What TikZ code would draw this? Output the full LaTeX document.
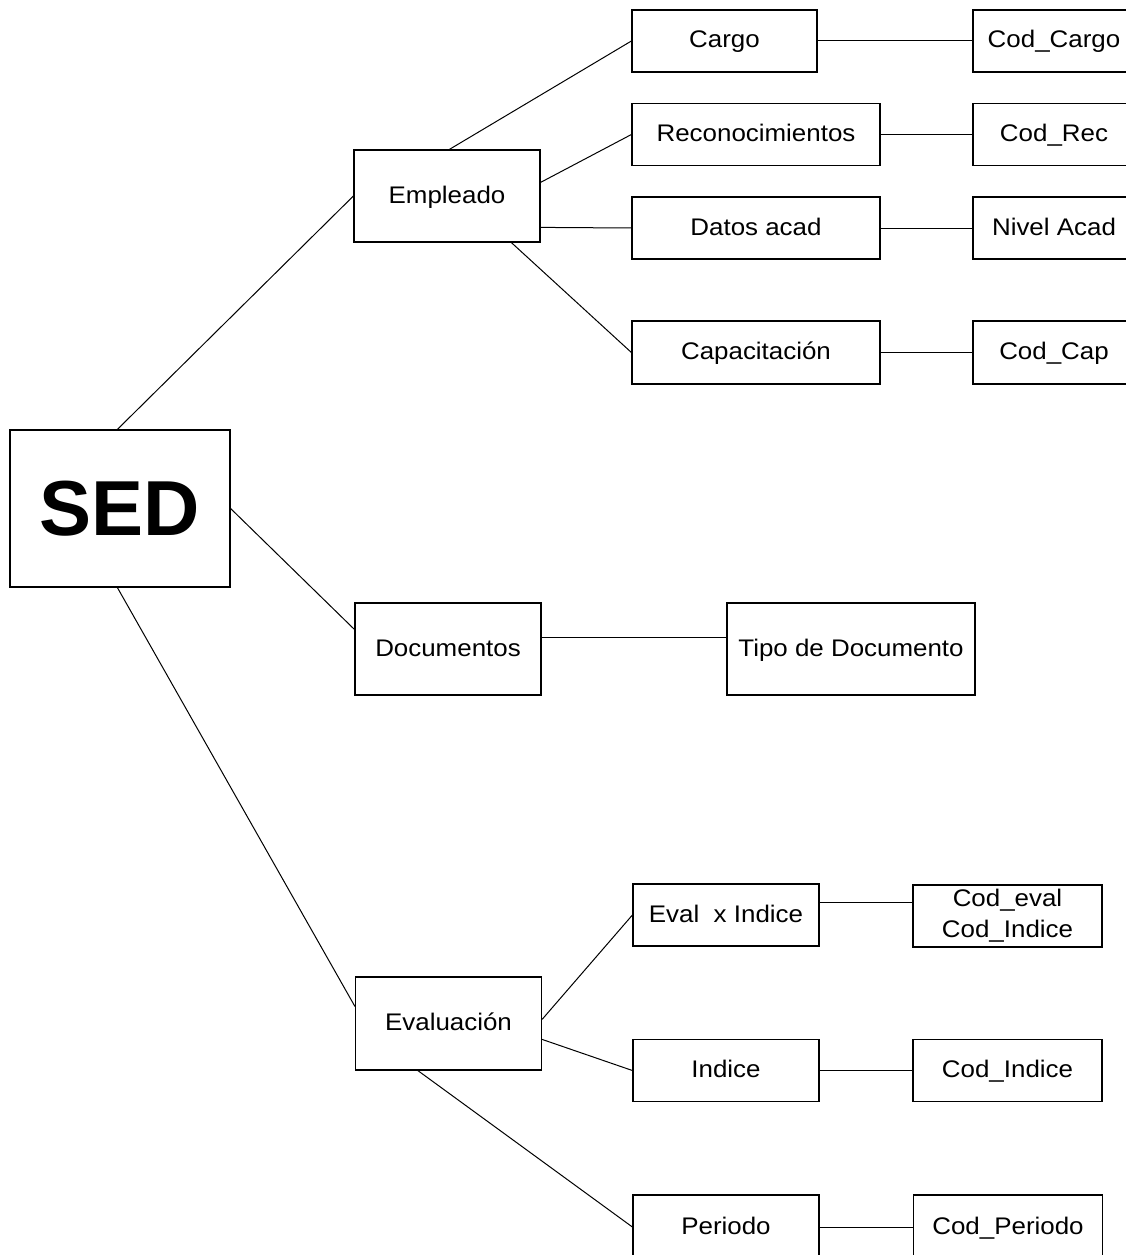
\documentclass[tikz,border=0pt]{standalone}
\usepackage{fontspec}
\setmainfont{Liberation Sans}[FakeStretch=1.08]
\newfontfamily\titlefont{Liberation Sans}
\usetikzlibrary{calc}

\begin{document}
\begin{tikzpicture}[x=1pt,y=-1pt,
  box/.style={draw, line width=1.2pt, inner sep=0pt, align=center,
    font=\fontsize{24}{31}\selectfont},
  one/.style={box, text height=18pt, text depth=4pt},
  link/.style={line width=1pt}]
\fill[white] (0,0) rectangle (1126,1255);
\useasboundingbox (0,0) rectangle (1126,1255);

% root
\node[box, minimum width=220, minimum height=157] (sed) at (120,508.5)
  {\titlefont\bfseries\fontsize{78}{78}\selectfont SED};

% second level
\node[one, minimum width=186, minimum height=92] (emp) at (447,196) {Empleado};
\node[one, minimum width=186, minimum height=92] (doc) at (448,649) {Documentos};
\node[one, minimum width=186, minimum height=93] (eva) at (448.5,1023.5) {Evaluación};

% Empleado branch
\node[one, minimum width=185, minimum height=62] (car) at (724.5,41) {Cargo};
\node[one, minimum width=248, minimum height=62] (rec) at (756,134.5) {Reconocimientos};
\node[one, minimum width=248, minimum height=62] (dat) at (756,228) {Datos acad};
\node[one, minimum width=248, minimum height=63] (cap) at (756,352.5) {Capacitación};

% key boxes run past the right edge of the sheet
\node[one, minimum width=162, minimum height=62] (kcar) at (1054,41) {Cod\_Cargo};
\node[one, minimum width=162, minimum height=62] (krec) at (1054,134.5) {Cod\_Rec};
\node[one, minimum width=162, minimum height=62] (kdat) at (1054,228) {Nivel Acad};
\node[one, minimum width=162, minimum height=63] (kcap) at (1054,352.5) {Cod\_Cap};

% Documentos branch
\node[one, minimum width=248, minimum height=92] (tip) at (851,649) {Tipo de Documento};

% Evaluacion branch
\node[one, minimum width=186, minimum height=62] (evx) at (726,915) {Eval\ \ x Indice};
\node[one, minimum width=186, minimum height=62] (ind) at (726,1070.5) {Indice};
\node[one, minimum width=186, minimum height=64] (per) at (726,1227) {Periodo};

\node[box, minimum width=189, minimum height=62] (kevx) at (1007.5,916) {Cod\_eval\\Cod\_Indice};
\node[one, minimum width=189, minimum height=62] (kind) at (1007.5,1070.5) {Cod\_Indice};
\node[one, minimum width=189, minimum height=64] (kper) at (1008,1227) {Cod\_Periodo};

% connectors from the root
\draw[link] ($(sed.north west)+(108,0)$) -- (emp.west);
\draw[link] (sed.east) -- ($(doc.north west)+(0,27)$);
\draw[link] ($(sed.south west)+(108,0)$) -- ($(eva.north west)+(0,30)$);

% Empleado connectors
\draw[link] ($(emp.north west)+(96,0)$) -- (car.west);
\draw[link] ($(emp.north east)+(0,33)$) -- (rec.west);
\draw[link] ($(emp.north east)+(0,78)$) -- (dat.west);
\draw[link] ($(emp.south west)+(158,0)$) -- (cap.west);
\draw[link] (car.east) -- (kcar.west);
\draw[link] (rec.east) -- (krec.west);
\draw[link] (dat.east) -- (kdat.west);
\draw[link] (cap.east) -- (kcap.west);

% Documentos connector
\draw[link] ($(doc.north east)+(0,35)$) -- ($(tip.north west)+(0,35)$);

% Evaluacion connectors
\draw[link] ($(eva.north east)+(0,43)$) -- (evx.west);
\draw[link] ($(eva.north east)+(0,63)$) -- (ind.west);
\draw[link] ($(eva.south west)+(63,0)$) -- (per.west);
\draw[link] ($(evx.north east)+(0,19)$) -- ($(kevx.north west)+(0,18)$);
\draw[link] (ind.east) -- (kind.west);
\draw[link] (per.east) -- (kper.west);
\end{tikzpicture}
\end{document}
